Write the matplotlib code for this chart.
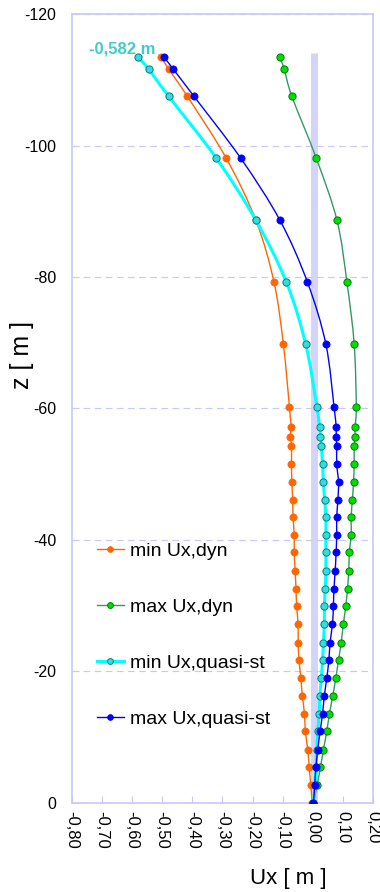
import matplotlib
matplotlib.use('Agg')
import matplotlib.pyplot as plt
from matplotlib.lines import Line2D
from matplotlib.patches import PathPatch
from matplotlib.path import Path
from matplotlib.ticker import FuncFormatter

plt.rcParams['font.family'] = ['Liberation Sans', 'DejaVu Sans']

### Data

z = [0, -2.7, -5.4, -8.1, -10.9, -13.6, -16.3, -19.0, -21.7, -24.4, -27.2, -29.9,
     -32.6, -35.3, -38.1, -40.8, -43.5, -46.1, -48.8, -51.6, -54.3, -55.7, -57.2,
     -60.3, -69.8, -79.2, -88.6, -98.1, -107.5, -111.6, -113.5]

min_dyn = [-0.002, -0.007, -0.012, -0.017, -0.025, -0.028, -0.035, -0.040, -0.046, -0.049,
           -0.049, -0.054, -0.056, -0.059, -0.062, -0.062, -0.066, -0.067, -0.070, -0.071,
           -0.071, -0.075, -0.073, -0.078, -0.098, -0.129, -0.189, -0.288, -0.417, -0.478, -0.505]
max_dyn = [0.002, 0.014, 0.025, 0.035, 0.046, 0.055, 0.066, 0.076, 0.085, 0.094,
           0.101, 0.109, 0.115, 0.119, 0.121, 0.127, 0.127, 0.131, 0.135, 0.137,
           0.137, 0.140, 0.140, 0.144, 0.137, 0.113, 0.080, 0.011, -0.070, -0.095, -0.110]
min_qs = [0.002, 0.007, 0.010, 0.013, 0.016, 0.021, 0.023, 0.028, 0.032, 0.035,
          0.038, 0.038, 0.041, 0.043, 0.043, 0.043, 0.043, 0.039, 0.035, 0.032,
          0.028, 0.025, 0.022, 0.013, -0.024, -0.088, -0.189, -0.321, -0.479, -0.545, -0.582]
max_qs = [0.002, 0.006, 0.010, 0.016, 0.024, 0.032, 0.038, 0.046, 0.053, 0.057,
          0.065, 0.068, 0.070, 0.074, 0.077, 0.079, 0.079, 0.083, 0.085, 0.079,
          0.079, 0.077, 0.077, 0.070, 0.043, -0.018, -0.109, -0.240, -0.395, -0.463, -0.495]

labels = ['min Ux,dyn', 'max Ux,dyn', 'min Ux,quasi-st', 'max Ux,quasi-st']

band_x = [0.004, 0.004]
band_z = [0, -114]

x_ticks = [-0.8, -0.7, -0.6, -0.5, -0.4, -0.3, -0.2, -0.1, 0.0, 0.1, 0.2]
z_ticks = [0, -20, -40, -60, -80, -100, -120]


def smooth_path(xs, ys):
    # Excel-like smoothed line: Catmull-Rom segments as cubic Beziers
    pts = list(zip(xs, ys))
    verts = [pts[0]]
    codes = [Path.MOVETO]
    n = len(pts)
    for i in range(n - 1):
        p0 = pts[max(i - 1, 0)]
        p1 = pts[i]
        p2 = pts[i + 1]
        p3 = pts[min(i + 2, n - 1)]
        c1 = (p1[0] + (p2[0] - p0[0]) / 6, p1[1] + (p2[1] - p0[1]) / 6)
        c2 = (p2[0] - (p3[0] - p1[0]) / 6, p2[1] - (p3[1] - p1[1]) / 6)
        verts += [c1, c2, p2]
        codes += [Path.CURVE4] * 3
    return Path(verts, codes)


### Plot

frame = '#C8C8F8'
fig = plt.figure(figsize=(3.8, 8.92), dpi=100)
ax = fig.add_axes([0.189, 0.0998, 0.793, 0.8845])

ax.plot(band_x, band_z, color='#D4D4F8', lw=5, solid_capstyle='butt', zorder=1)

styles = [
    dict(color='#FF6600', lw=1.0, mfc='#FF6600', mec='#FF6600', mew=0.5, z=3),
    dict(color='#339966', lw=1.0, mfc='#00DD00', mec='#008000', mew=0.7, z=3),
    dict(color='#00FFFF', lw=2.2, mfc='#33DDDD', mec='#008080', mew=0.7, z=4),
    dict(color='#0000FF', lw=1.0, mfc='#0000FF', mec='#0000FF', mew=0.5, z=5),
]
handles = []
for xs, st, lab in zip([min_dyn, max_dyn, min_qs, max_qs], styles, labels):
    ax.add_patch(PathPatch(smooth_path(xs, z), fill=False, edgecolor=st['color'],
                           lw=st['lw'], zorder=st['z']))
    ax.plot(xs, z, ls='none', marker='o', ms=5.2, mfc=st['mfc'], mec=st['mec'],
            mew=st['mew'], zorder=st['z'] + 0.1)
    handles.append(Line2D([], [], color=st['color'], lw=st['lw'], marker='o', ms=4.2,
                          mfc=st['mfc'], mec=st['mec'], mew=st['mew'], label=lab))

ax.annotate('-0,582 m', (min_qs[-1], z[-1]), xytext=(-35, 2.5), textcoords='offset points',
            color='#40CCCC', fontsize=12, fontweight='bold', ha='left', va='baseline')

ax.set_xlim(-0.8, 0.2)
ax.set_ylim(0, -120)
ax.set_xticks(x_ticks)
ax.set_yticks(z_ticks)
ax.xaxis.set_major_formatter(FuncFormatter(lambda v, p: f'{v:.2f}'.replace('.', ',').replace('-0,00', '0,00')))
ax.yaxis.set_major_formatter(FuncFormatter(lambda v, p: f'{v:.0f}'))
ax.tick_params(axis='x', labelrotation=-90, labelsize=12, direction='in', color=frame, length=5, pad=6)
ax.tick_params(axis='y', labelsize=11.5, direction='in', color=frame, length=5, pad=11)
ax.yaxis.grid(True, color=frame, ls=(0, (6, 4)), lw=0.8)

for s in ax.spines.values():
    s.set_color(frame)
    s.set_linewidth(1.2)

ax.set_xlabel('Ux [ m ]', fontsize=16)
ax.xaxis.set_label_coords(0.718, -0.082)
ax.set_ylabel('z [ m ]', fontsize=18, va='center')
ax.yaxis.set_label_coords(-0.166, 0.568)

ax.legend(handles=handles, loc='upper left', bbox_to_anchor=(0.025, 0.353), frameon=False,
          fontsize=14, labelspacing=1.98, handlelength=1.4, handletextpad=0.3)

fig.savefig('out.png', dpi=100)
